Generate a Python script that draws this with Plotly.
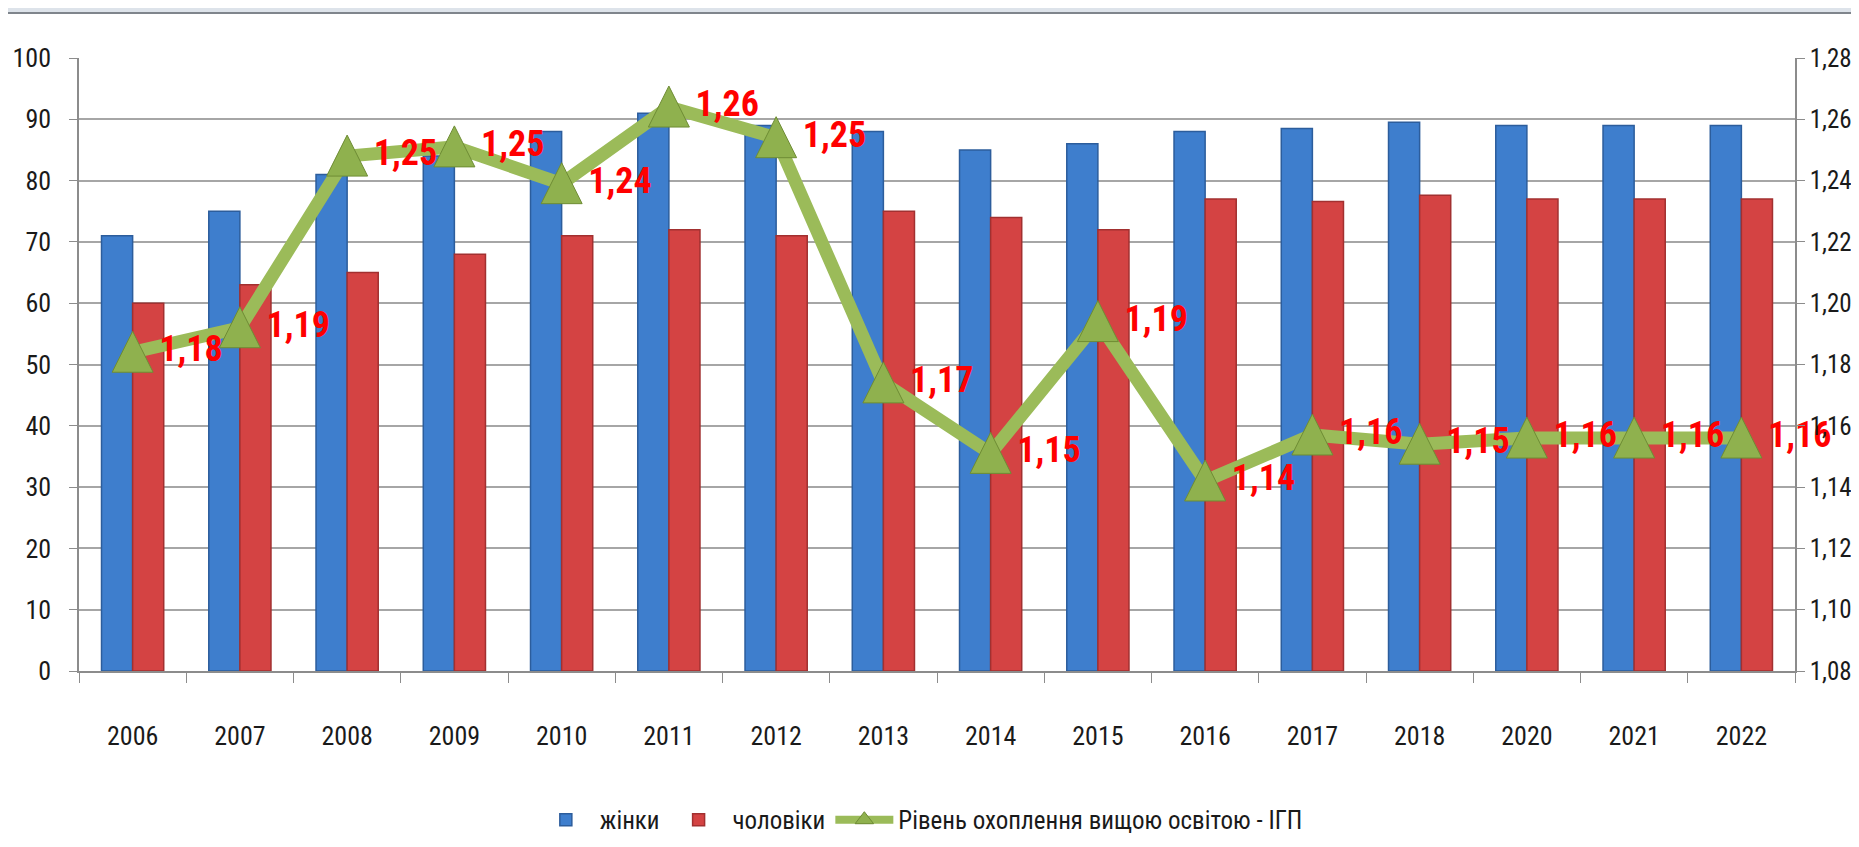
import plotly.graph_objects as go

years = ["2006", "2007", "2008", "2009", "2010", "2011", "2012", "2013",
         "2014", "2015", "2016", "2017", "2018", "2020", "2021", "2022"]
women = [71, 75, 81, 84, 88, 91, 89, 88, 85, 86, 88, 88.5, 89.5, 89, 89, 89]
men = [60, 63, 65, 68, 71, 72, 71, 75, 74, 72, 77, 76.6, 77.6, 77, 77, 77]
gpi = [1.184, 1.192, 1.248, 1.251, 1.239, 1.264, 1.254, 1.174, 1.151, 1.194,
       1.142, 1.157, 1.154, 1.156, 1.156, 1.156]
gpi_labels = [f"{v:.2f}".replace(".", ",") for v in gpi]

left_ticks = list(range(0, 101, 10))
right_ticks = [1.08, 1.10, 1.12, 1.14, 1.16, 1.18, 1.20, 1.22, 1.24, 1.26, 1.28]
right_tick_text = [f"{v:.2f}".replace(".", ",") for v in right_ticks]

FONT = "Roboto Condensed, Liberation Sans Narrow, DejaVu Sans Condensed, sans-serif"
GREEN = "#9bbb59"

fig = go.Figure()
fig.add_trace(go.Bar(
    x=years, y=women, name="жінки",
    marker=dict(color="#3e7ecd", line=dict(color="#2c5d9c", width=1.5)),
))
fig.add_trace(go.Bar(
    x=years, y=men, name="чоловіки",
    marker=dict(color="#d44343", line=dict(color="#a23030", width=1.5)),
))
fig.add_trace(go.Scatter(
    x=years, y=gpi, yaxis="y2", name="Рівень охоплення вищою освітою - ІГП",
    legendgroup="gpi", showlegend=False,
    mode="lines+markers+text",
    line=dict(color=GREEN, width=13),
    marker=dict(symbol="arrow-down", angle=180, standoff=21, size=41,
                color="#8fb14e", line=dict(color="#6e8c34", width=1)),
    text=gpi_labels, textposition="middle right",
    textfont=dict(family=FONT, size=36, color="#ff0000", weight="bold"),
    cliponaxis=False,
))
# legend entry for the line series
fig.add_trace(go.Scatter(
    x=[None], y=[None], yaxis="y2", name="Рівень охоплення вищою освітою - ІГП",
    legendgroup="gpi", mode="lines+markers",
    line=dict(color=GREEN, width=8),
    marker=dict(symbol="triangle-up", size=16, color="#8fb14e",
                line=dict(color="#6e8c34", width=1)),
))

axis_col = "#8c8c8c"
fig.update_layout(
    width=1859, height=847,
    margin=dict(l=71, r=72, t=50, b=155),
    paper_bgcolor="white", plot_bgcolor="white",
    barmode="group", bargap=0.42, bargroupgap=0,
    font=dict(family=FONT, size=26, color="#1a1a1a"),
    showlegend=True,
    legend=dict(orientation="h", x=0.49, xanchor="center", y=-0.243, yanchor="middle",
                font=dict(family=FONT, size=25, color="#1a1a1a"),
                itemwidth=58, traceorder="normal"),
    xaxis=dict(type="category", range=[-0.5, 15.5], automargin=False,
               showline=True, linecolor=axis_col, linewidth=1.5,
               ticks="outside", tickson="boundaries", ticklen=10, tickcolor=axis_col,
               ticklabelstandoff=41, showgrid=False),
    yaxis=dict(range=[0, 100], tickvals=left_ticks, automargin=False,
               showline=True, linecolor=axis_col,
               linewidth=1.5, ticks="outside", ticklen=8, tickcolor=axis_col,
               showgrid=True, gridcolor="#a6a6a6", gridwidth=1.5, zeroline=False,
               ticklabelstandoff=13),
    yaxis2=dict(range=[1.08, 1.28], tickvals=right_ticks, ticktext=right_tick_text,
                automargin=False, tickfont=dict(size=25),
                overlaying="y", side="right", showline=True, linecolor=axis_col,
                linewidth=1.5, ticks="outside", ticklen=8, tickcolor=axis_col,
                showgrid=False, zeroline=False, ticklabelstandoff=0),
    shapes=[
        dict(type="rect", xref="paper", yref="paper", x0=-0.05, x1=1.05,
             ysizemode="pixel", yanchor=1, y0=44, y1=50,
             fillcolor="#dde3ea", line=dict(width=0), layer="below"),
        dict(type="line", xref="paper", yref="paper", x0=-0.05, x1=1.05,
             ysizemode="pixel", yanchor=1, y0=45, y1=45,
             line=dict(color="#7f858c", width=2)),
    ],
)

fig.write_html("out.html")
